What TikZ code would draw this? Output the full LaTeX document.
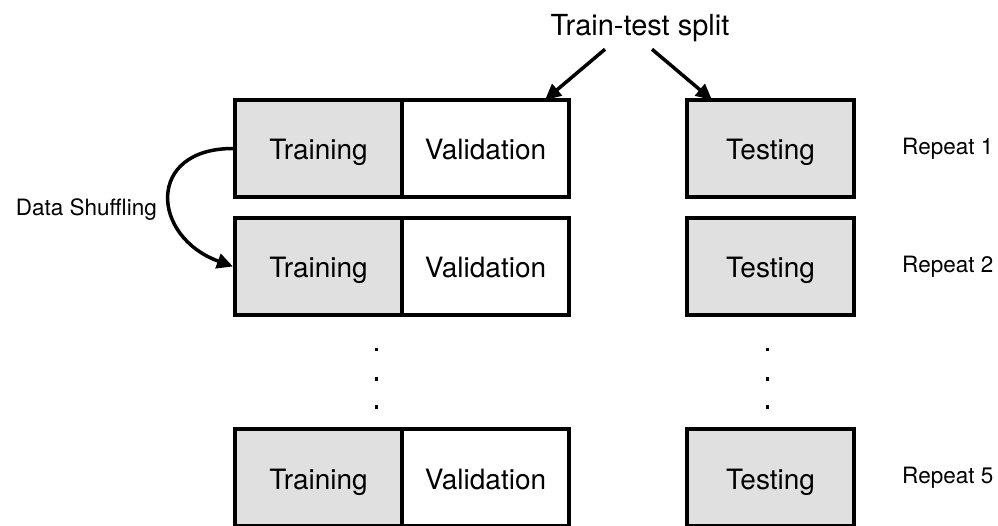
\documentclass[tikz,border=0pt]{standalone}
\usepackage{fontspec}
\setmainfont{TeX Gyre Heros}
\usetikzlibrary{arrows.meta,positioning}
\definecolor{boxgray}{HTML}{E0E0E0}

\begin{document}
\begin{tikzpicture}[x=1pt,y=1pt,node distance=21pt and 0pt,
  box/.style={draw,line width=4pt,minimum width=167pt,minimum height=97pt,
    outer sep=0pt,inner sep=0pt,text height=23pt,text depth=0pt,
    font=\fontsize{28}{32}\selectfont},
  trainbox/.style={box,fill=boxgray},
  valbox/.style={box,fill=white},
  sidetext/.style={font=\fontsize{22.5}{26}\selectfont,inner sep=0pt},
  arr/.style={-{Triangle[length=16pt,width=15pt]},line width=3.5pt}]
\useasboundingbox (0,0) rectangle (998,525);
% row 1
\node[trainbox] (tr1) at (318.5,376.5) {Training};
\node[valbox,right=of tr1] (va1) {Validation};
\node[trainbox] (te1) at (770.5,376.5) {Testing};
% row 2
\node[trainbox,below=of tr1] (tr2) {Training};
\node[valbox,right=of tr2] (va2) {Validation};
\node[trainbox,below=of te1] (te2) {Testing};
% row 5
\node[trainbox,below=114pt of tr2] (tr5) {Training};
\node[valbox,right=of tr5] (va5) {Validation};
\node[trainbox,below=114pt of te2] (te5) {Testing};
% labels
\coordinate (repx) at (902,0);
\node[font=\fontsize{29}{33}\selectfont] (split) at (640,497) {Train-test split};
\node[sidetext,anchor=west] (rep1) at (tr1 -| repx) {Repeat 1};
\node[sidetext,anchor=west] (rep2) at (tr2 -| repx) {Repeat 2};
\node[sidetext,anchor=west] (rep5) at (tr5 -| repx) {Repeat 5};
\node[sidetext,anchor=east] (shuf) at (157,315) {Data Shuffling};
% dots
\foreach \yy in {175,146,118} {
  \fill (374.5,\yy-1.5) rectangle +(3.5,3.5);
  \fill (765.5,\yy-1.5) rectangle +(3.5,3.5);
}
% arrows
\draw[arr] ([xshift=-35pt,yshift=-4pt]split.south) -- ([xshift=-24pt]va1.north east);
\draw[arr] ([xshift=12pt,yshift=-4pt]split.south) -- ([xshift=25pt]te1.north west);
\draw[arr] ([xshift=-2pt]tr1.west) to[out=180,in=160,looseness=1.9] ([xshift=-2pt]tr2.west);
\end{tikzpicture}
\end{document}
